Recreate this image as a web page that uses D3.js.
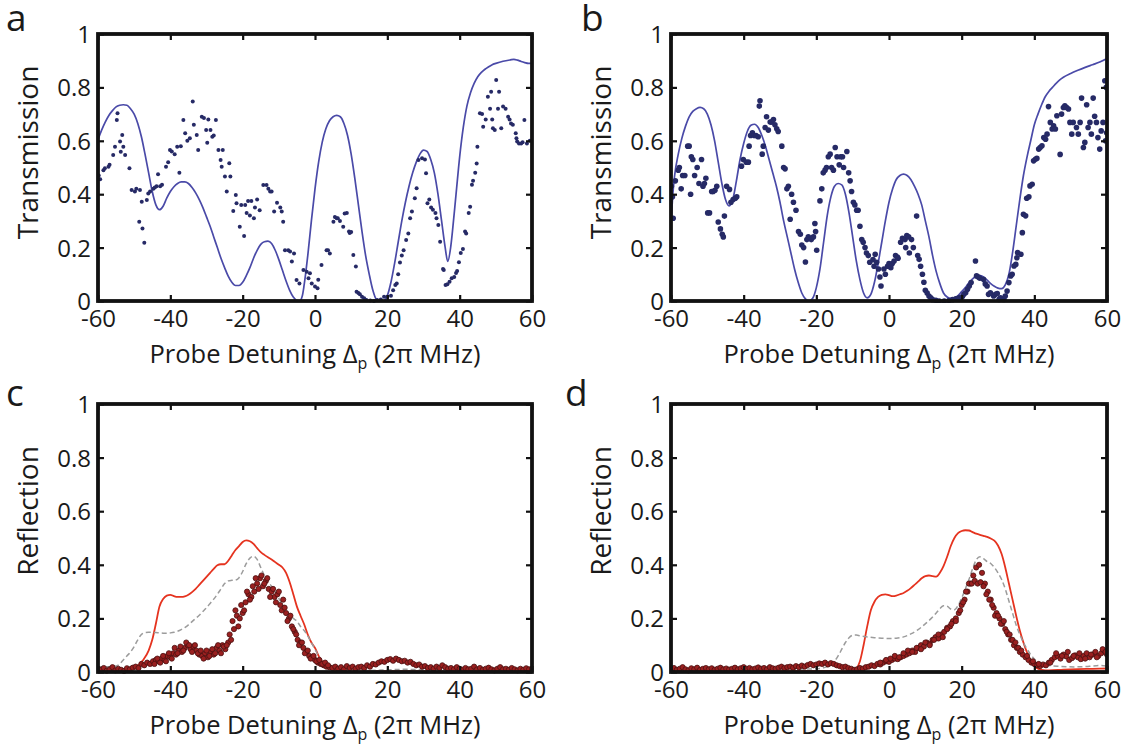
<!DOCTYPE html>
<html>
<head>
<meta charset="utf-8">
<script src="https://cdn.jsdelivr.net/npm/d3@7"></script>
<style>
  html, body { margin: 0; padding: 0; background: #fff; }
  svg { display: block; }
  text { font-family: "Open Sans", "Noto Sans", sans-serif; fill: #1a1a1a; }
</style>
</head>
<body>
<svg id="chart" width="1129" height="751"></svg>
<script>
// ---------------- DATA ----------------
const xTicks = [-60, -40, -20, 0, 20, 40, 60];
const yTicks = [0, 0.2, 0.4, 0.6, 0.8, 1];
const yTickLabels = ["0", "0.2", "0.4", "0.6", "0.8", "1"];
const panelLetters = ["a", "b", "c", "d"];
const yTitles = ["Transmission", "Transmission", "Reflection", "Reflection"];

// Panel a: theory (blue line) and measured transmission (dots)
const aTheory = [[-60,0.605],[-59,0.64],[-58,0.67],[-57,0.695],[-56,0.713],[-55,0.727],[-54,0.733],[-53,0.735],[-52,0.733],[-51,0.72],[-50,0.7],[-49,0.665],[-48,0.615],[-47,0.55],[-46,0.48],[-45,0.41],[-44,0.36],[-43,0.342],[-42,0.355],[-41,0.385],[-40,0.41],[-39,0.428],[-38,0.44],[-37,0.446],[-36,0.446],[-35,0.44],[-34,0.425],[-33,0.405],[-32,0.38],[-31,0.35],[-30,0.315],[-29,0.28],[-28,0.24],[-27,0.2],[-26,0.16],[-25,0.125],[-24,0.093],[-23,0.07],[-22,0.058],[-21,0.058],[-20,0.07],[-19,0.095],[-18,0.125],[-17,0.16],[-16,0.19],[-15,0.212],[-14,0.222],[-13,0.224],[-12,0.215],[-11,0.19],[-10,0.155],[-9,0.115],[-8,0.075],[-7,0.04],[-6,0.015],[-5,0.002],[-4.3,0.0],[-3.5,0.02],[-3,0.06],[-2,0.17],[-1,0.3],[0,0.42],[1,0.52],[2,0.595],[3,0.645],[4,0.675],[5,0.69],[6,0.695],[7,0.69],[8,0.665],[9,0.62],[10,0.55],[11,0.46],[12,0.36],[13,0.26],[14,0.17],[15,0.1],[16,0.04],[17,0.005],[18,0.0],[19,0.0],[20,0.02],[21,0.07],[22,0.14],[23,0.22],[24,0.3],[25,0.37],[26,0.43],[27,0.48],[28,0.52],[29,0.55],[30,0.565],[31,0.56],[32,0.53],[33,0.48],[34,0.4],[35,0.3],[36,0.2],[36.7,0.148],[37.5,0.2],[38,0.26],[39,0.4],[40,0.54],[41,0.65],[42,0.73],[43,0.78],[44,0.815],[45,0.84],[46,0.856],[47,0.868],[48,0.877],[49,0.885],[50,0.89],[52,0.898],[54,0.903],[55,0.905],[56,0.902],[57,0.897],[58,0.893],[59,0.89],[60,0.89]];

const aData = [[-59.8,0.47],[-59.4,0.456],[-58.5,0.49],[-58.1,0.497],[-57.1,0.503],[-56.8,0.51],[-55.8,0.547],[-55.3,0.578],[-54.8,0.678],[-54.6,0.703],[-53.9,0.597],[-53.7,0.559],[-53.3,0.622],[-53,0.578],[-52.5,0.547],[-51.3,0.497],[-50.7,0.416],[-49.8,0.41],[-49.4,0.42],[-48.4,0.416],[-47.9,0.372],[-48.6,0.297],[-47.7,0.272],[-47.2,0.218],[-46.5,0.378],[-46.1,0.403],[-45.6,0.41],[-44.7,0.42],[-44.3,0.425],[-43.8,0.43],[-43.4,0.475],[-42.8,0.43],[-42.3,0.435],[-41.2,0.503],[-40.6,0.52],[-40.1,0.566],[-39.6,0.56],[-38.8,0.55],[-38.1,0.578],[-37.5,0.48],[-37.1,0.58],[-36.4,0.678],[-35.9,0.628],[-35.3,0.6],[-34.6,0.61],[-33.8,0.747],[-33.5,0.66],[-32.7,0.622],[-32.3,0.566],[-31.3,0.69],[-30.7,0.685],[-30.1,0.64],[-29.8,0.593],[-29.5,0.68],[-28.9,0.64],[-28.4,0.615],[-28.0,0.62],[-27.4,0.678],[-26.7,0.566],[-26.1,0.528],[-25.8,0.503],[-25.5,0.566],[-24.9,0.466],[-24.4,0.41],[-23.7,0.516],[-23.4,0.466],[-22.6,0.337],[-21.9,0.397],[-21.7,0.366],[-20.8,0.278],[-20.4,0.36],[-19.6,0.243],[-19.3,0.36],[-18.9,0.33],[-18.5,0.375],[-17.6,0.375],[-18.0,0.32],[-16.9,0.31],[-16.6,0.35],[-16.0,0.38],[-15.3,0.34],[-14.3,0.434],[-13.4,0.434],[-12.9,0.42],[-12.4,0.41],[-12.0,0.41],[-11.3,0.335],[-10.5,0.368],[-9.6,0.35],[-9.2,0.335],[-8.8,0.297],[-8.3,0.19],[-7.4,0.19],[-6.9,0.185],[-6.4,0.148],[-5.8,0.178],[-5.1,0.079],[-4.3,0.066],[-3.2,0.116],[-2.3,0.11],[-1.4,0.104],[-1.8,0.085],[-0.9,0.066],[0,0.054],[0.7,0.048],[0.9,0.08],[1.8,0.135],[3.2,0.19],[3.6,0.19],[4.1,0.178],[5.1,0.297],[5.5,0.315],[6.0,0.31],[6.3,0.31],[6.9,0.3],[7.8,0.278],[8.2,0.328],[8.8,0.33],[9.4,0.26],[9.6,0.255],[10.0,0.258],[10.6,0.172],[11.3,0.129],[11.5,0.035],[12.0,0.03],[12.4,0.025],[13.0,0.016],[13.6,0.01],[14.2,0.004],[15.3,0.002],[16.3,0.0],[17.2,0.004],[18.2,0.006],[19.1,0.016],[20.0,0.016],[21.0,0.02],[21.6,0.04],[22.2,0.06],[22.6,0.066],[23.0,0.1],[23.5,0.144],[24.0,0.17],[24.5,0.19],[25.2,0.228],[25.8,0.253],[26.3,0.31],[26.8,0.335],[27.6,0.385],[28.1,0.422],[28.6,0.528],[29.6,0.535],[30.4,0.53],[30.7,0.478],[31.1,0.366],[31.6,0.38],[32.1,0.35],[32.6,0.342],[33.3,0.33],[33.6,0.31],[34.1,0.285],[34.6,0.222],[35.4,0.12],[35.6,0.116],[36.1,0.06],[36.6,0.063],[37.2,0.072],[37.8,0.085],[38.5,0.09],[39.0,0.105],[39.3,0.112],[39.8,0.145],[40.3,0.18],[40.9,0.195],[41.5,0.26],[41.8,0.253],[42.5,0.33],[42.9,0.353],[43.4,0.435],[43.7,0.45],[44.3,0.48],[44.7,0.515],[44.9,0.578],[45.6,0.703],[46.2,0.7],[46.5,0.653],[47.2,0.68],[47.8,0.765],[48.4,0.72],[48.7,0.784],[49.0,0.68],[49.2,0.647],[49.7,0.64],[50.1,0.828],[50.6,0.72],[50.9,0.784],[51.5,0.647],[52.0,0.728],[52.7,0.72],[53.4,0.69],[53.8,0.68],[54.2,0.665],[54.7,0.66],[55.5,0.628],[55.7,0.61],[55.9,0.597],[56.4,0.59],[57.0,0.59],[57.4,0.595],[57.9,0.678],[58.6,0.59],[59.4,0.6]];

// Panel b
const bTheory = [[-60,0.28],[-59.5,0.4],[-59,0.47],[-58,0.55],[-57,0.61],[-56,0.655],[-55,0.69],[-54,0.71],[-53,0.72],[-52,0.725],[-51,0.72],[-50,0.7],[-49,0.66],[-48,0.6],[-47,0.52],[-46,0.44],[-45,0.38],[-44,0.356],[-43,0.38],[-42,0.45],[-41,0.53],[-40,0.59],[-39,0.635],[-38,0.658],[-37,0.662],[-36,0.65],[-35,0.62],[-34,0.58],[-33,0.53],[-32,0.48],[-31,0.43],[-30,0.37],[-29,0.3],[-28,0.24],[-27,0.18],[-26,0.12],[-25,0.07],[-24,0.03],[-23,0.008],[-22,0.0],[-21,0.01],[-20,0.05],[-19,0.12],[-18,0.22],[-17,0.32],[-16,0.39],[-15,0.43],[-14,0.44],[-13,0.435],[-12,0.4],[-11,0.33],[-10,0.24],[-9,0.15],[-8,0.08],[-7,0.03],[-6,0.012],[-5,0.025],[-4,0.07],[-3,0.14],[-2,0.22],[-1,0.3],[0,0.37],[1,0.42],[2,0.455],[3,0.47],[4,0.475],[5,0.47],[6,0.455],[7,0.43],[8,0.4],[9,0.36],[10,0.3],[11,0.24],[12,0.17],[13,0.11],[14,0.065],[15,0.03],[16,0.015],[17,0.01],[18,0.012],[19,0.02],[20,0.035],[21,0.05],[22,0.068],[23,0.083],[24,0.093],[25,0.095],[26,0.09],[27,0.078],[28,0.065],[29,0.055],[30,0.048],[31,0.046],[32,0.06],[33,0.1],[34,0.18],[35,0.28],[36,0.38],[37,0.47],[38,0.54],[39,0.6],[40,0.66],[41,0.7],[42,0.735],[43,0.765],[44,0.785],[45,0.8],[46,0.815],[47,0.828],[48,0.838],[50,0.852],[52,0.864],[54,0.875],[56,0.885],[58,0.895],[60,0.908]];

const bData = [[-59.9,0.43],[-59.6,0.39],[-59.4,0.31],[-58.8,0.45],[-58,0.49],[-57.7,0.5],[-57.2,0.42],[-56.8,0.47],[-56.2,0.47],[-55.4,0.58],[-55.0,0.58],[-54.6,0.40],[-54.4,0.54],[-54.0,0.53],[-53.5,0.47],[-52.8,0.5],[-52.3,0.44],[-51.6,0.53],[-51.2,0.43],[-50.8,0.44],[-50.4,0.46],[-49.9,0.33],[-49.4,0.33],[-48.8,0.41],[-48.4,0.41],[-47.9,0.415],[-47.4,0.43],[-47.0,0.296],[-46.4,0.27],[-45.9,0.25],[-45.6,0.24],[-45.3,0.318],[-44.7,0.43],[-43.9,0.418],[-43.5,0.37],[-42.9,0.38],[-42.3,0.385],[-41.9,0.39],[-40.6,0.505],[-40.1,0.53],[-39.3,0.52],[-38.7,0.52],[-38.5,0.58],[-38.1,0.62],[-37.6,0.63],[-37.1,0.62],[-36.6,0.62],[-36.0,0.615],[-35.7,0.73],[-35.5,0.75],[-34.9,0.55],[-34.6,0.58],[-34.1,0.65],[-33.7,0.69],[-33.2,0.64],[-32.7,0.67],[-32.3,0.67],[-31.8,0.68],[-31.4,0.66],[-30.9,0.645],[-30.5,0.635],[-29.5,0.58],[-29.0,0.5],[-28.6,0.495],[-28.1,0.42],[-27.7,0.43],[-27.2,0.306],[-26.8,0.4],[-26.3,0.37],[-25.6,0.34],[-24.9,0.26],[-24.4,0.25],[-24.0,0.21],[-23.5,0.2],[-23.0,0.146],[-22.6,0.23],[-22.2,0.24],[-21.4,0.23],[-20.8,0.24],[-20.2,0.26],[-20.4,0.29],[-19.9,0.19],[-19.0,0.375],[-18.5,0.42],[-18.1,0.48],[-17.6,0.49],[-17.2,0.5],[-16.7,0.54],[-16.2,0.55],[-15.8,0.50],[-15.3,0.49],[-14.8,0.575],[-14.3,0.54],[-13.7,0.51],[-13.3,0.54],[-12.8,0.54],[-12.5,0.50],[-11.6,0.56],[-11.1,0.48],[-10.7,0.45],[-10.3,0.41],[-9.8,0.37],[-9.4,0.36],[-8.9,0.34],[-8.5,0.34],[-8.0,0.28],[-7.5,0.23],[-7.1,0.22],[-6.6,0.2],[-6.2,0.18],[-5.7,0.17],[-5.3,0.145],[-4.4,0.155],[-4.1,0.13],[-3.8,0.175],[-3.4,0.145],[-2.9,0.12],[-2.5,0.09],[-2.2,0.056],[-1.4,0.12],[-1.0,0.1],[-0.4,0.13],[0.0,0.14],[0.5,0.125],[0.9,0.14],[1.4,0.15],[1.8,0.17],[2.3,0.165],[2.5,0.16],[3.2,0.22],[3.7,0.235],[4.4,0.23],[4.9,0.245],[5.4,0.24],[4.6,0.2],[5.6,0.18],[6.2,0.23],[6.7,0.2],[7.6,0.318],[7.9,0.17],[8.3,0.156],[8.7,0.13],[9.2,0.1],[9.6,0.07],[10.0,0.04],[10.5,0.03],[11.0,0.019],[11.5,0.012],[12.0,0.005],[12.9,0.003],[13.8,0.0],[15.2,0.0],[16.5,0.002],[17.5,0.005],[18.4,0.008],[19.3,0.012],[20.2,0.017],[20.6,0.025],[21.1,0.031],[21.6,0.044],[22.1,0.056],[22.6,0.069],[23.8,0.15],[24.1,0.094],[24.6,0.09],[25.0,0.085],[26.0,0.081],[26.5,0.064],[27.0,0.056],[27.4,0.025],[27.9,0.031],[28.8,0.019],[29.3,0.025],[29.8,0.028],[30.3,0.006],[30.7,0.012],[31.6,0.006],[32.0,0.019],[32.5,0.037],[33.0,0.069],[33.5,0.094],[33.9,0.1],[34.4,0.131],[34.9,0.137],[35.2,0.162],[35.4,0.181],[36.3,0.175],[36.7,0.256],[37.0,0.325],[37.6,0.319],[37.9,0.385],[38.5,0.39],[38.8,0.431],[39.4,0.437],[39.8,0.525],[40.3,0.531],[40.7,0.534],[41.2,0.569],[41.6,0.575],[42.1,0.581],[42.6,0.612],[43.1,0.606],[43.5,0.625],[43.9,0.728],[44.4,0.669],[44.9,0.644],[45.3,0.656],[45.8,0.644],[46.2,0.694],[47.1,0.549],[47.5,0.7],[48.0,0.725],[48.4,0.731],[48.9,0.725],[49.4,0.719],[49.8,0.669],[50.3,0.625],[50.7,0.669],[51.6,0.65],[52.1,0.625],[52.6,0.669],[53.0,0.76],[53.5,0.575],[53.9,0.594],[54.4,0.735],[54.8,0.65],[55.3,0.669],[55.7,0.625],[56.2,0.76],[56.6,0.692],[57.1,0.669],[57.5,0.612],[58.0,0.569],[58.4,0.637],[58.9,0.669],[59.4,0.825],[59.8,0.8],[59.6,0.6],[59.9,0.63]];

// Panel c: full theory (red), simplified theory (grey dashed), measured reflection (dots)
const cTheory = [[-60,0.004],[-56,0.004],[-53,0.005],[-51,0.01],[-49.4,0.02],[-47.5,0.045],[-46,0.08],[-45,0.12],[-44,0.18],[-43,0.244],[-42,0.272],[-41,0.285],[-40,0.288],[-39,0.283],[-38,0.28],[-37,0.28],[-36,0.282],[-35,0.288],[-34,0.298],[-33,0.31],[-32,0.325],[-31,0.34],[-30,0.355],[-29,0.37],[-28,0.385],[-27,0.398],[-26,0.402],[-25,0.402],[-24,0.415],[-23,0.435],[-22,0.455],[-21,0.47],[-20,0.485],[-19,0.491],[-18,0.488],[-17,0.478],[-16,0.462],[-15,0.447],[-14,0.437],[-13,0.428],[-12,0.42],[-11,0.41],[-10,0.4],[-9,0.39],[-8,0.37],[-7,0.335],[-6,0.29],[-5,0.244],[-4,0.21],[-3,0.178],[-2,0.14],[-1,0.11],[0,0.09],[1,0.06],[2,0.04],[3,0.025],[4,0.014],[5,0.008],[7,0.004],[10,0.003],[20,0.003],[30,0.003],[40,0.003],[50,0.003],[60,0.003]];
const cDashed = [[-60,0.02],[-57,0.02],[-55,0.022],[-54,0.03],[-53,0.045],[-52,0.06],[-51,0.075],[-50,0.095],[-49,0.12],[-48,0.14],[-47,0.147],[-46,0.148],[-45,0.148],[-44,0.147],[-43,0.146],[-42,0.145],[-41,0.145],[-40,0.146],[-39,0.148],[-38,0.152],[-37,0.158],[-36,0.166],[-35,0.176],[-34,0.188],[-33,0.2],[-32,0.212],[-31,0.226],[-30,0.24],[-29,0.256],[-28,0.272],[-27,0.29],[-26,0.31],[-25,0.33],[-24,0.34],[-23,0.342],[-22,0.343],[-21,0.352],[-20,0.375],[-19,0.405],[-18,0.425],[-17,0.432],[-16,0.42],[-15,0.39],[-14,0.36],[-13,0.335],[-12,0.32],[-11,0.3],[-10,0.275],[-9,0.25],[-8,0.23],[-7,0.215],[-6,0.2],[-5,0.19],[-4,0.17],[-3,0.155],[-2,0.135],[-1,0.11],[0,0.085],[1,0.06],[2,0.04],[3,0.027],[4,0.02],[5,0.016],[7,0.012],[10,0.008],[15,0.006],[20,0.008],[25,0.01],[30,0.008],[40,0.006],[50,0.005],[60,0.005]];
const cData = [[-60,0.012],[-59.2,0.008],[-58.4,0.015],[-57.6,0.005],[-56.8,0.01],[-56,0.018],[-55.2,0.006],[-54.4,0.012],[-53.6,0.008],[-52.8,0.004],[-52,0.014],[-51.2,0.01],[-50.4,0.016],
[-49.6,0.02],[-48.8,0.015],[-48,0.03],[-47.2,0.025],[-46.4,0.035],[-45.6,0.03],[-44.8,0.04],[-44,0.045],
[-43.2,0.04],[-42.4,0.05],[-41.6,0.045],[-40.8,0.06],[-40,0.055],[-39.2,0.07],[-38.4,0.065],[-37.6,0.08],[-36.8,0.075],[-36,0.09],
[-35.2,0.1],[-34.4,0.085],[-33.6,0.095],[-32.8,0.08],[-32,0.065],[-31.2,0.06],[-30.4,0.07],[-29.6,0.055],[-28.8,0.075],[-28,0.065],
[-27.2,0.09],[-26.4,0.08],[-25.6,0.1],[-24.8,0.085],[-24,0.11],[-23.2,0.12],[-22.4,0.16],[-21.6,0.21],[-20.8,0.2],[-20,0.22],
[-19.2,0.26],[-18.4,0.29],[-17.6,0.28],[-16.8,0.3],[-16,0.33],[-15.2,0.35],[-14.4,0.32],[-13.6,0.34],[-12.8,0.31],[-12,0.3],
[-11.2,0.28],[-10.4,0.29],[-9.6,0.25],[-8.8,0.27],[-8,0.22],[-7.2,0.2],[-6.4,0.17],[-5.6,0.15],[-4.8,0.12],[-4,0.11],
[-3.2,0.09],[-2.4,0.075],[-1.6,0.06],[-0.8,0.055],[0,0.045],[0.8,0.035],[1.6,0.03],[2.4,0.025],[3.2,0.02],[4,0.018],
[4.8,0.015],[5.6,0.02],[6.4,0.012],[7.2,0.018],[8,0.01],[8.8,0.022],[9.6,0.015],[10.4,0.02],[11.2,0.012],[12,0.018],
[12.8,0.02],[13.6,0.015],[14.4,0.025],[15.2,0.02],[16,0.03],[16.8,0.028],[17.6,0.035],[18.4,0.04],[19.2,0.038],[20,0.045],
[20.8,0.048],[21.6,0.042],[22.4,0.05],[23.2,0.045],[24,0.04],[24.8,0.042],[25.6,0.035],[26.4,0.038],[27.2,0.03],[28,0.025],
[28.8,0.028],[29.6,0.02],[30.4,0.022],[31.2,0.015],[32,0.018],[32.8,0.012],[33.6,0.02],[34.4,0.015],[35.2,0.025],[36,0.018],
[36.8,0.012],[37.6,0.015],[38.4,0.01],[39.2,0.018],[40,0.012],[40.8,0.008],[41.6,0.015],[42.4,0.01],[43.2,0.012],[44,0.02],
[44.8,0.01],[45.6,0.015],[46.4,0.008],[47.2,0.012],[48,0.016],[48.8,0.01],[49.6,0.006],[50.4,0.012],[51.2,0.018],[52,0.01],
[52.8,0.012],[53.6,0.008],[54.4,0.015],[55.2,0.01],[56,0.006],[56.8,0.012],[57.6,0.008],[58.4,0.014],[59.2,0.01],[60,0.012],
[-44.4,0.03],[-43.6,0.05],[-42.8,0.035],[-42,0.06],[-41.2,0.04],[-40.4,0.07],[-39.6,0.05],[-38.8,0.09],[-38,0.07],[-37.2,0.095],[-36.4,0.08],[-35.6,0.11],[-34.8,0.1],[-34,0.075],[-33.2,0.1],[-32.4,0.07],[-31.6,0.08],[-30.8,0.05],[-30,0.08],[-29.2,0.06],[-28.4,0.085],[-27.6,0.07],[-26.8,0.1],[-26,0.07],[-25.2,0.095],[-24.4,0.1],[-23.6,0.14],[-22.8,0.19],[-22,0.23],[-21.2,0.17],[-20.4,0.25],[-19.6,0.23],[-18.8,0.3],[-18,0.27],[-17.2,0.32],[-16.4,0.35],[-15.6,0.31],[-14.8,0.36],[-14,0.33],[-13.2,0.35],[-12.4,0.28],[-11.6,0.31],[-10.8,0.26],[-10,0.3],[-9.2,0.23],[-8.4,0.24],[-7.6,0.19],[-6.8,0.21],[-6,0.16],[-5.2,0.14],[-4.4,0.1],[-3.6,0.11],[-2.8,0.07],[-2,0.08],[-1.2,0.05],[-0.4,0.06],[0.4,0.04],[1.2,0.045],[2,0.03],[2.8,0.035],[3.6,0.025]];

// Panel d
const dTheory = [[-60,0.004],[-30,0.004],[-15,0.004],[-10,0.005],[-9,0.012],[-8,0.04],[-7,0.1],[-6,0.17],[-5,0.23],[-4,0.262],[-3,0.28],[-2,0.288],[-1,0.29],[0,0.287],[1,0.283],[2,0.285],[3,0.29],[4,0.295],[5,0.303],[6,0.313],[7,0.325],[8,0.337],[9,0.35],[10,0.358],[11,0.36],[12,0.358],[13,0.356],[14,0.37],[15,0.395],[16,0.43],[17,0.47],[18,0.5],[19,0.518],[20,0.526],[21,0.529],[22,0.528],[23,0.522],[24,0.516],[25,0.512],[26,0.508],[27,0.504],[28,0.498],[29,0.49],[30,0.472],[31,0.44],[32,0.39],[33,0.33],[34,0.27],[35,0.21],[36,0.155],[37,0.11],[38,0.072],[39,0.042],[40,0.022],[41,0.012],[42,0.008],[44,0.006],[48,0.009],[52,0.011],[56,0.012],[60,0.013]];
const dDashed = [[-60,0.01],[-30,0.01],[-20,0.012],[-18,0.016],[-16,0.026],[-15,0.04],[-14,0.06],[-13,0.085],[-12,0.11],[-11,0.128],[-10,0.137],[-9,0.138],[-8,0.135],[-6,0.131],[-4,0.128],[-2,0.126],[0,0.125],[2,0.126],[4,0.131],[6,0.142],[8,0.158],[10,0.18],[12,0.205],[13,0.22],[14,0.236],[15,0.247],[16,0.245],[17,0.235],[18,0.232],[19,0.248],[20,0.276],[21,0.31],[22,0.345],[23,0.385],[24,0.418],[25,0.43],[26,0.423],[27,0.412],[28,0.405],[29,0.39],[30,0.37],[31,0.345],[32,0.31],[33,0.265],[34,0.22],[35,0.175],[36,0.14],[37,0.11],[38,0.085],[39,0.065],[40,0.048],[42,0.03],[44,0.024],[47,0.021],[51,0.019],[55,0.021],[58,0.024],[60,0.022]];
const dData = [[-60,0.01],[-59.2,0.015],[-58.4,0.008],[-57.6,0.012],[-56.8,0.018],[-56,0.01],[-55.2,0.006],[-54.4,0.014],[-53.6,0.01],[-52.8,0.016],[-52,0.008],[-51.2,0.012],[-50.4,0.015],
[-49.6,0.01],[-48.8,0.014],[-48,0.008],[-47.2,0.012],[-46.4,0.016],[-45.6,0.01],[-44.8,0.013],[-44,0.009],
[-43.2,0.012],[-42.4,0.016],[-41.6,0.01],[-40.8,0.014],[-40,0.018],[-39.2,0.012],[-38.4,0.015],[-37.6,0.01],[-36.8,0.013],[-36,0.017],
[-35.2,0.012],[-34.4,0.015],[-33.6,0.01],[-32.8,0.018],[-32,0.014],[-31.2,0.012],[-30.4,0.016],[-29.6,0.02],[-28.8,0.015],[-28,0.018],
[-27.2,0.02],[-26.4,0.016],[-25.6,0.022],[-24.8,0.018],[-24,0.024],[-23.2,0.02],[-22.4,0.026],[-21.6,0.03],[-20.8,0.025],[-20,0.028],
[-19.2,0.032],[-18.4,0.03],[-17.6,0.035],[-16.8,0.028],[-16,0.033],[-15.2,0.03],[-14.4,0.025],[-13.6,0.022],[-12.8,0.018],[-12,0.02],
[-11.2,0.015],[-10.4,0.012],[-9.6,0.008],[-8.8,0.01],[-8,0.015],[-7.2,0.012],[-6.4,0.018],[-5.6,0.02],[-4.8,0.025],[-4,0.022],
[-3.2,0.03],[-2.4,0.028],[-1.6,0.035],[-0.8,0.04],[0,0.038],[0.8,0.045],[1.6,0.05],[2.4,0.048],[3.2,0.055],[4,0.06],
[4.8,0.065],[5.6,0.07],[6.4,0.08],[7.2,0.075],[8,0.09],[8.8,0.1],[9.6,0.095],[10.4,0.11],[11.2,0.105],[12,0.12],
[12.8,0.13],[13.6,0.125],[14.4,0.14],[15.2,0.15],[16,0.165],[16.8,0.17],[17.6,0.19],[18.4,0.2],[19.2,0.22],[20,0.25],
[20.8,0.27],[21.6,0.3],[22.4,0.33],[23.2,0.36],[24,0.39],[24.8,0.4],[25.6,0.37],[26.4,0.33],[27.2,0.3],[28,0.27],
[28.8,0.24],[29.6,0.22],[30.4,0.2],[31.2,0.18],[32,0.16],[32.8,0.14],[33.6,0.12],[34.4,0.1],[35.2,0.09],[36,0.075],
[36.8,0.065],[37.6,0.055],[38.4,0.045],[39.2,0.035],[40,0.03],[40.8,0.025],[41.6,0.022],[42.4,0.028],[43.2,0.025],[44,0.035],
[44.8,0.045],[45.6,0.055],[46.4,0.06],[47.2,0.05],[48,0.065],[48.8,0.058],[49.6,0.045],[50.4,0.052],[51.2,0.062],[52,0.055],
[52.8,0.048],[53.6,0.06],[54.4,0.07],[55.2,0.055],[56,0.065],[56.8,0.075],[57.6,0.06],[58.4,0.07],[59.2,0.08],[60,0.065],
[-2.4,0.035],[-0.8,0.045],[0.4,0.05],[1.6,0.06],[2.8,0.055],[4,0.07],[5.2,0.08],[6.4,0.075],[7.6,0.09],[8.8,0.085],[10,0.11],[11.2,0.1],[12.4,0.12],[13.6,0.14],[14.8,0.13],[16,0.16],[17.2,0.18],[18.4,0.19],[19.6,0.23],[20.4,0.26],[21.2,0.3],[22,0.33],[22.8,0.33],[23.6,0.34],[24.4,0.33],[25.2,0.335],[26,0.32],[26.8,0.29],[27.6,0.27],[28.4,0.25],[29.2,0.21],[30,0.21],[30.8,0.18],[31.6,0.19],[32.4,0.15],[33.2,0.14],[34,0.12],[34.8,0.11],[35.6,0.09],[36.4,0.08],[38,0.06],[39.6,0.04],[41.2,0.03],[44.4,0.035],[46,0.07],[47.6,0.06],[49.2,0.075],[50.8,0.06],[52.4,0.07],[54,0.05],[55.6,0.065],[57.2,0.055],[58.8,0.085],[59.6,0.075]];

// ---------------- LAYOUT ----------------
const panels = [
  { box: {l: 98,  r: 532,  t: 34,  b: 301}, letterPos: [6, 31],    kind: "trans", line: aTheory, dots: aData, dotR: 2.0, yTitleOffset: -15 },
  { box: {l: 671, r: 1107, t: 34,  b: 301}, letterPos: [581, 31],  kind: "trans", line: bTheory, dots: bData, dotR: 2.8, yTitleOffset: -15 },
  { box: {l: 98,  r: 532,  t: 404, b: 672}, letterPos: [6, 406],   kind: "refl",  line: cTheory, dashed: cDashed, dots: cData, dotR: 2.6, yTitleOffset: -27 },
  { box: {l: 671, r: 1107, t: 404, b: 672}, letterPos: [565, 406], kind: "refl",  line: dTheory, dashed: dDashed, dots: dData, dotR: 2.6, yTitleOffset: -27 }
];

const svg = d3.select("#chart");

panels.forEach((p, i) => {
  const B = p.box;
  const x = d3.scaleLinear().domain([-60, 60]).range([B.l, B.r]);
  const y = d3.scaleLinear().domain([0, 1]).range([B.b, B.t]);
  const g = svg.append("g");

  const clipId = "clip" + i;
  svg.append("defs").append("clipPath").attr("id", clipId)
    .append("rect").attr("x", B.l).attr("y", B.t - 2).attr("width", B.r - B.l).attr("height", B.b - B.t + 4);

  const plot = g.append("g").attr("clip-path", `url(#${clipId})`);

  const line = d3.line().x(d => x(d[0])).y(d => y(d[1])).curve(d3.curveMonotoneX);

  if (p.kind === "trans") {
    plot.append("path").datum(p.line).attr("d", line)
      .attr("fill", "none").attr("stroke", "#4a4aa8").attr("stroke-width", 1.7);
    plot.selectAll("circle.dot").data(p.dots).join("circle")
      .attr("class", "dot")
      .attr("cx", d => x(d[0])).attr("cy", d => y(d[1])).attr("r", p.dotR)
      .attr("fill", "#262a66");
  } else {
    plot.append("path").datum(p.line).attr("d", line)
      .attr("fill", "none").attr("stroke", "#e5331f").attr("stroke-width", 1.8);
    plot.append("path").datum(p.dashed).attr("d", line)
      .attr("fill", "none").attr("stroke", "#9c9c9c").attr("stroke-width", 1.5)
      .attr("stroke-dasharray", "5,3");
    plot.selectAll("circle.dot").data(p.dots).join("circle")
      .attr("class", "dot")
      .attr("cx", d => x(d[0])).attr("cy", d => y(d[1])).attr("r", p.dotR)
      .attr("fill", "#9a2020").attr("stroke", "#4a1010").attr("stroke-width", 0.8);
  }

  // Axes with inward ticks (mirrored on all sides)
  const tickLen = 6;
  const xAxisB = d3.axisBottom(x).tickValues(xTicks).tickSize(-tickLen).tickFormat(d => d);
  const xAxisT = d3.axisTop(x).tickValues(xTicks).tickSize(-tickLen).tickFormat("");
  const yAxisL = d3.axisLeft(y).tickValues(yTicks).tickSize(-tickLen).tickFormat((d, k) => yTickLabels[k]);
  const yAxisR = d3.axisRight(y).tickValues(yTicks).tickSize(-tickLen).tickFormat("");

  const gxb = g.append("g").attr("transform", `translate(0,${B.b})`).call(xAxisB);
  const gxt = g.append("g").attr("transform", `translate(0,${B.t})`).call(xAxisT);
  const gyl = g.append("g").attr("transform", `translate(${B.l},0)`).call(yAxisL);
  const gyr = g.append("g").attr("transform", `translate(${B.r},0)`).call(yAxisR);

  [gxb, gxt, gyl, gyr].forEach(a => {
    a.select(".domain").remove();
    a.selectAll(".tick line").attr("stroke", "#111").attr("stroke-width", 2.2);
    a.selectAll("text").style("font-family", '"Open Sans", "Noto Sans", sans-serif')
      .style("font-size", "24px").attr("fill", "#1a1a1a");
  });
  gxb.selectAll(".tick text").attr("y", 9).attr("dy", "0.71em");
  gyl.selectAll(".tick text").attr("x", -7).attr("dy", "0.35em");

  // Frame
  g.append("rect").attr("x", B.l).attr("y", B.t).attr("width", B.r - B.l).attr("height", B.b - B.t)
    .attr("fill", "none").attr("stroke", "#111").attr("stroke-width", 3.8);

  // X title
  const cx = (B.l + B.r) / 2;
  const xt = g.append("text").attr("x", cx).attr("y", B.b + 62).attr("text-anchor", "middle")
    .style("font-size", "25.5px");
  xt.append("tspan").text("Probe Detuning Δ");
  xt.append("tspan").text("p").style("font-size", "16px").attr("dy", 6);
  xt.append("tspan").text(" (2π MHz)").attr("dy", -6);

  // Y title
  const cy = (B.t + B.b) / 2 + p.yTitleOffset;
  g.append("text").attr("transform", `translate(${B.l - 60},${cy}) rotate(-90)`)
    .attr("text-anchor", "middle").style("font-size", "28px").text(yTitles[i]);

  // Panel letter
  g.append("text").attr("x", p.letterPos[0]).attr("y", p.letterPos[1])
    .style("font-size", "37px").text(panelLetters[i]);
});
</script>
</body>
</html>
